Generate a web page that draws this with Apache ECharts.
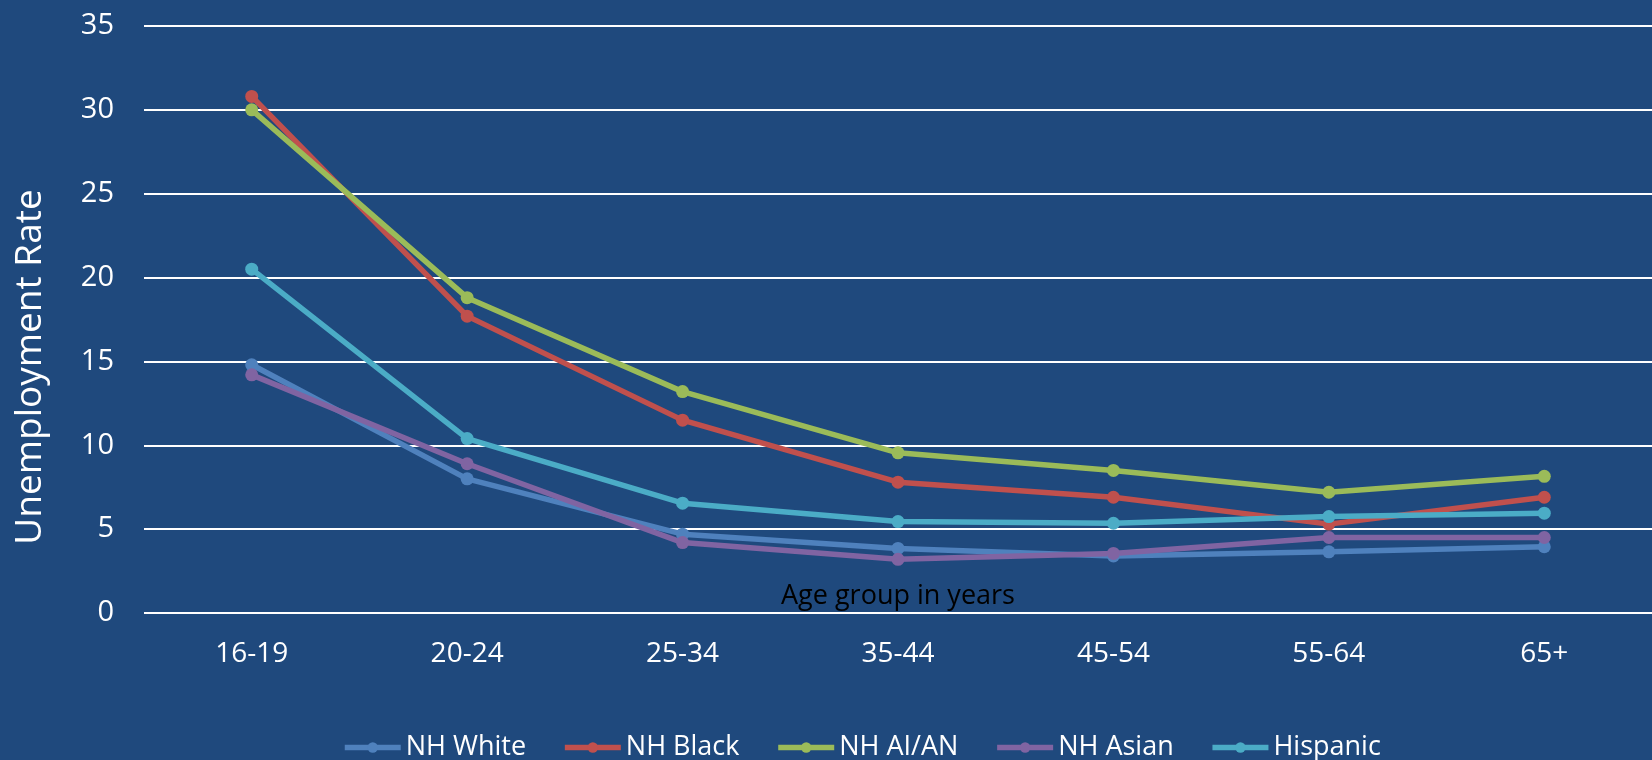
<!DOCTYPE html>
<html>
<head>
<meta charset="utf-8">
<script src="https://cdn.jsdelivr.net/npm/echarts@6/dist/echarts.min.js"></script>
<style>
html,body{margin:0;padding:0;background:#1F497D;}
#c{width:1652px;height:760px;}
</style>
</head>
<body>
<div id="c"></div>
<script>
const categories = ['16-19','20-24','25-34','35-44','45-54','55-64','65+'];
const nhWhite   = [14.8, 8.0, 4.7, 3.85, 3.4, 3.65, 3.95];
const nhBlack   = [30.8, 17.7, 11.5, 7.8, 6.9, 5.3, 6.9];
const nhAIAN    = [30.0, 18.8, 13.2, 9.55, 8.5, 7.2, 8.15];
const nhAsian   = [14.2, 8.9, 4.2, 3.2, 3.55, 4.5, 4.5];
const hispanic  = [20.5, 10.4, 6.55, 5.45, 5.35, 5.75, 5.95];
const seriesNames = ['NH White','NH Black','NH AI/AN','NH Asian','Hispanic'];
const seriesColors = ['#4F81BD','#C0504D','#9BBB59','#8064A2','#4BACC6'];
const seriesData = [nhWhite, nhBlack, nhAIAN, nhAsian, hispanic];

const FONT = '"Open Sans", sans-serif';
const chart = echarts.init(document.getElementById('c'), null, {renderer:'canvas'});
chart.setOption({
  backgroundColor: '#1F497D',
  animation: false,
  textStyle: {fontFamily: FONT},
  grid: {left: 144, right: 0, top: 26, bottom: 147, containLabel: false, outerBoundsMode: 'none'},
  legend: {
    left: 337, top: 729,
    itemWidth: 56, itemHeight: 13, itemGap: 36,
    lineStyle: {width: 5.5},
    textStyle: {color: '#FFFFFF', fontSize: 27, fontFamily: FONT},
    data: seriesNames
  },
  xAxis: {
    type: 'category',
    data: categories,
    boundaryGap: true,
    name: 'Age group in years',
    nameLocation: 'middle',
    nameGap: -17,
    nameMoveOverlap: false,
    nameTextStyle: {color: '#000000', fontSize: 27, fontFamily: FONT, verticalAlign: 'middle'},
    axisLine: {show: false},
    axisTick: {show: false},
    axisLabel: {color: '#FFFFFF', fontSize: 28, margin: 27, fontFamily: FONT},
    splitLine: {show: false}
  },
  yAxis: {
    type: 'value',
    min: 0, max: 35, interval: 5,
    name: 'Unemployment Rate',
    nameLocation: 'middle',
    nameGap: 95,
    nameRotate: 90,
    nameMoveOverlap: false,
    nameTextStyle: {color: '#FFFFFF', fontSize: 37, fontFamily: FONT, padding: [0, 95, 0, 0]},
    axisLine: {show: false},
    axisTick: {show: false},
    axisLabel: {color: '#FFFFFF', fontSize: 29, margin: 30, fontFamily: FONT},
    splitLine: {show: true, lineStyle: {color: '#FFFFFF', width: 2}}
  },
  series: seriesNames.map((n, i) => ({
    name: n,
    type: 'line',
    data: seriesData[i],
    color: seriesColors[i],
    symbol: 'circle',
    symbolSize: 13,
    showSymbol: true,
    lineStyle: {width: 5.5, color: seriesColors[i]},
    itemStyle: {color: seriesColors[i]}
  }))
});
</script>
</body>
</html>
